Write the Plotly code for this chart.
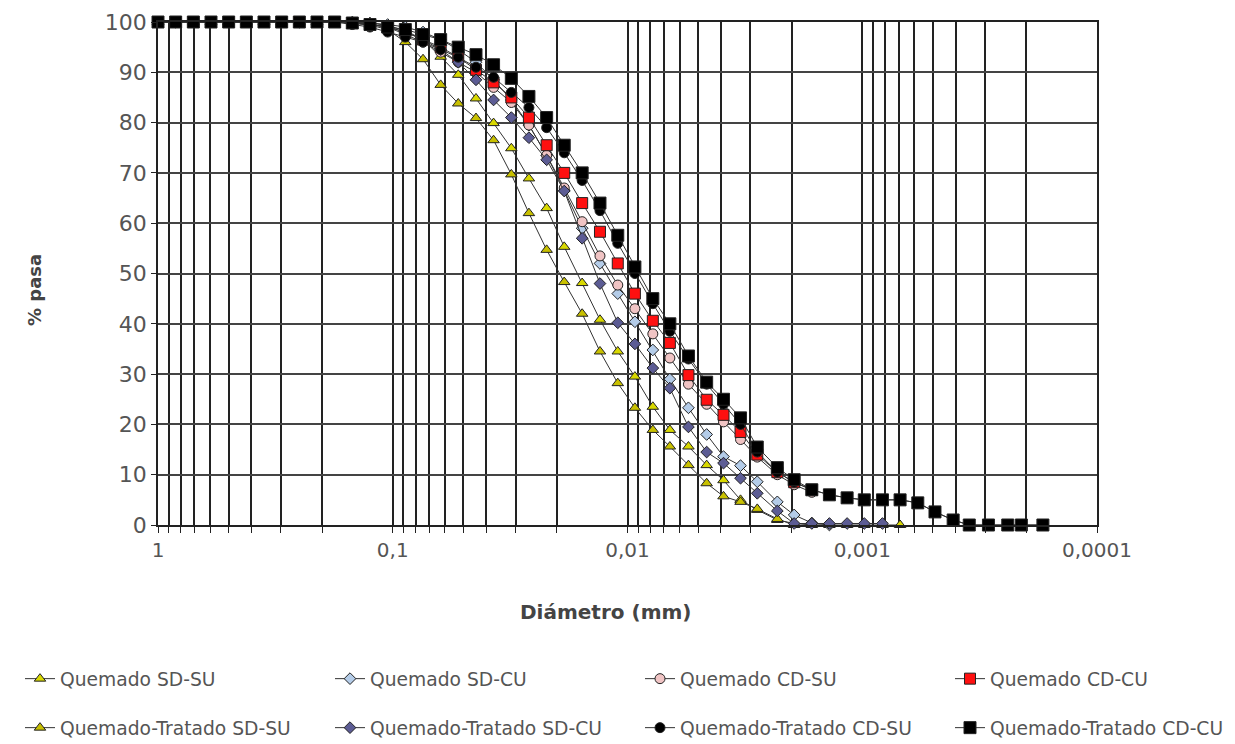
import plotly.graph_objects as go

# Common particle diameters (mm), quarter-phi steps
diametro = [1, 0.8409, 0.7071, 0.5946, 0.5, 0.4204, 0.3536, 0.2973, 0.25, 0.2102,
            0.1768, 0.1487, 0.125, 0.1051, 0.0884, 0.0743, 0.0625, 0.0526, 0.0442, 0.0372,
            0.03125, 0.0263, 0.0221, 0.0186, 0.0156, 0.0131, 0.0110, 0.0093, 0.0078, 0.0066,
            0.0055, 0.0046, 0.0039, 0.0033, 0.0028, 0.0023, 0.00195, 0.00164, 0.00138, 0.00116,
            0.00098, 0.00082, 0.00069, 0.00058, 0.00049, 0.00041, 0.00035, 0.00029, 0.00024, 0.00021,
            0.00017]

q_sd_su = [100, 100, 100, 100, 100, 100, 100, 100, 100, 100, 100, 100, 99.8, 99.3, 98.3, 96.5, 93.1, 89.5, 84.8, 79.9,
           74.9, 68.9, 63, 55.3, 48.1, 40.8, 34.5, 29.5, 23.5, 18.9, 15.6, 11.9, 8.9, 5, 3, 1, 0.3, 0, 0, 0,
           0, 0, 0]
q_sd_cu = [100, 100, 100, 100, 100, 100, 100, 100, 100, 100, 100, 100, 99.8, 99.5, 99, 98, 96.5, 94.5, 92, 88.5,
           84.5, 79.5, 73.5, 66.5, 59, 52, 46, 40.4, 34.8, 29, 23.3, 18, 13.6, 11.8, 8.6, 4.6, 2, 0.4, 0]
q_cd_su = [100, 100, 100, 100, 100, 100, 100, 100, 100, 100, 100, 99.8, 99.5, 99, 97.5, 96, 94, 92, 90, 87,
           84, 79.5, 73.5, 67, 60.3, 53.5, 47.7, 43, 38, 33.2, 28, 24, 20.5, 17, 13.5, 10, 8, 6.5]
q_cd_cu = [100, 100, 100, 100, 100, 100, 100, 100, 100, 100, 100, 99.8, 99.5, 99, 98, 96.5, 95, 93, 90.5, 88,
           85, 81, 75.5, 70, 64, 58.3, 52, 46, 40.6, 36.2, 29.8, 24.9, 21.9, 18.5, 14, 10.5, 8.5, 7]
qt_sd_su = [100, 100, 100, 100, 100, 100, 100, 100, 100, 100, 100, 99.8, 99.4, 98.5, 96, 92.6, 87.5, 83.8, 80.9, 76.5,
            69.7, 62, 54.7, 48.3, 42, 34.5, 28.2, 23.3, 18.9, 15.6, 11.9, 8.3, 5.7, 4.6, 3.2, 1.2, 0]
qt_sd_cu = [100, 100, 100, 100, 100, 100, 100, 100, 100, 100, 100, 99.8, 99.5, 99, 98, 96.5, 94.5, 92, 88.5, 84.5,
            81, 77, 72.6, 66.4, 57, 48, 40.2, 36, 31.2, 27.2, 19.5, 14.5, 12.3, 9.3, 6.3, 2.8, 0.3, 0.3, 0.3, 0.3,
            0.3, 0.3]
qt_cd_su = [100, 100, 100, 100, 100, 100, 100, 100, 100, 100, 100, 99.5, 99, 98, 97, 96, 94.5, 93, 91, 89,
            86, 83, 79, 74, 68.5, 62.5, 56, 50, 44, 38.5, 33, 28, 24, 20, 14.5, 10.5, 8.5, 7, 6, 5.4,
            5, 5, 5, 4.4, 2.6, 1, 0, 0, 0, 0, 0]
qt_cd_cu = [100, 100, 100, 100, 100, 100, 100, 100, 100, 100, 100, 99.8, 99.5, 99, 98.5, 97.5, 96.5, 95, 93.5, 91.5,
            88.8, 85.2, 81, 75.5, 70, 64, 57.6, 51.3, 45, 40, 33.6, 28.4, 25, 21.3, 15.5, 11.4, 9, 7, 6, 5.4,
            5, 5, 5, 4.4, 2.6, 1, 0, 0, 0, 0, 0]

series_names = ["Quemado SD-SU", "Quemado SD-CU", "Quemado CD-SU", "Quemado CD-CU",
                "Quemado-Tratado SD-SU", "Quemado-Tratado SD-CU", "Quemado-Tratado CD-SU",
                "Quemado-Tratado CD-CU"]
series_values = [q_sd_su, q_sd_cu, q_cd_su, q_cd_cu, qt_sd_su, qt_sd_cu, qt_cd_su, qt_cd_cu]
symbols = ["triangle-up", "diamond", "circle", "square", "triangle-up", "diamond", "circle", "square"]
fills = ["#d8d800", "#b4cce8", "#f0c4c4", "#ff1010", "#c8c000", "#5c5c94", "#000000", "#000000"]
sizes = [10, 9, 10, 11, 10, 9, 10, 12]

x_ticks = [1, 0.1, 0.01, 0.001, 0.0001]
x_ticktext = ["1", "0,1", "0,01", "0,001", "0,0001"]
minor_vals = [m * 10 ** e for e in range(-4, 0) for m in range(2, 10)]

# page body has an 8px margin: screen = figure + OFF
OFF = 8
SCR_W, SCR_H = 1235, 744
W, H = SCR_W - OFF, SCR_H - OFF
PL, PR, PT, PB = 158, 1097, 22, 525  # plot area in screen pixels
L, T = PL - OFF, PT - OFF
R, B = W - (PR - OFF), H - (PB - OFF)
pw, ph = PR - PL, PB - PT

def px_x(p):
    return (p - PL) / pw

def px_y(p):
    return (PB - p) / ph

legend_cols = [20, 330, 640, 950]
legend_rows = [679, 728]

fig = go.Figure()
layout_legends = {}
for i, (name, vals, sym, col, size) in enumerate(zip(series_names, series_values, symbols, fills, sizes)):
    lg = "legend" if i == 0 else "legend%d" % (i + 1)
    fig.add_trace(go.Scatter(
        x=diametro[:len(vals)], y=vals, mode="lines+markers", name=name,
        line=dict(color="#333333", width=1),
        marker=dict(symbol=sym, color=col, size=size, line=dict(color="#222222", width=1)),
        legend=lg, cliponaxis=False,
    ))
    layout_legends[lg] = dict(
        x=px_x(legend_cols[i % 4]), xanchor="left",
        y=px_y(legend_rows[i // 4]), yanchor="middle",
        orientation="v", bgcolor="rgba(0,0,0,0)",
        font=dict(size=18.7, color="#555555", family="DejaVu Sans"),
    )

fig.update_layout(
    width=W, height=H,
    margin=dict(l=L, r=R, t=T, b=B, autoexpand=False),
    paper_bgcolor="white", plot_bgcolor="white",
    font=dict(family="DejaVu Sans", size=17, color="#555555"),
    showlegend=True,
    **layout_legends,
)
fig.add_annotation(text="<b>Diámetro (mm)</b>", xref="paper", yref="paper",
                   x=px_x(605), y=px_y(612), xanchor="center", yanchor="middle",
                   showarrow=False, font=dict(size=20, color="#444444", family="DejaVu Sans"))
fig.add_annotation(text="<b>% pasa</b>", xref="paper", yref="paper",
                   x=px_x(35), y=px_y(290), xanchor="center", yanchor="middle", textangle=-90,
                   showarrow=False, font=dict(size=18, color="#444444", family="DejaVu Sans"))

fig.update_xaxes(
    type="log", range=[0, -4], automargin=False,
    tickvals=x_ticks, ticktext=x_ticktext, ticks="outside", ticklen=6, tickcolor="#222222",
    showgrid=True, gridcolor="#222222", gridwidth=1.5,
    minor=dict(tickvals=minor_vals, showgrid=True, gridcolor="#222222", gridwidth=1.5,
               ticks="outside", ticklen=6, tickcolor="#222222"),
    showline=True, linecolor="#222222", linewidth=1.5, mirror=True,
    tickfont=dict(size=20, color="#555555"),
    zeroline=False,
)
fig.update_yaxes(
    range=[0, 100], automargin=False, tickvals=list(range(0, 101, 10)),
    ticks="outside", ticklen=5, tickcolor="#222222",
    showgrid=True, gridcolor="#444444", gridwidth=2,
    showline=True, linecolor="#222222", linewidth=1.5, mirror=True,
    tickfont=dict(size=22, color="#555555"),
    zeroline=False,
)

fig.write_html("out.html")
